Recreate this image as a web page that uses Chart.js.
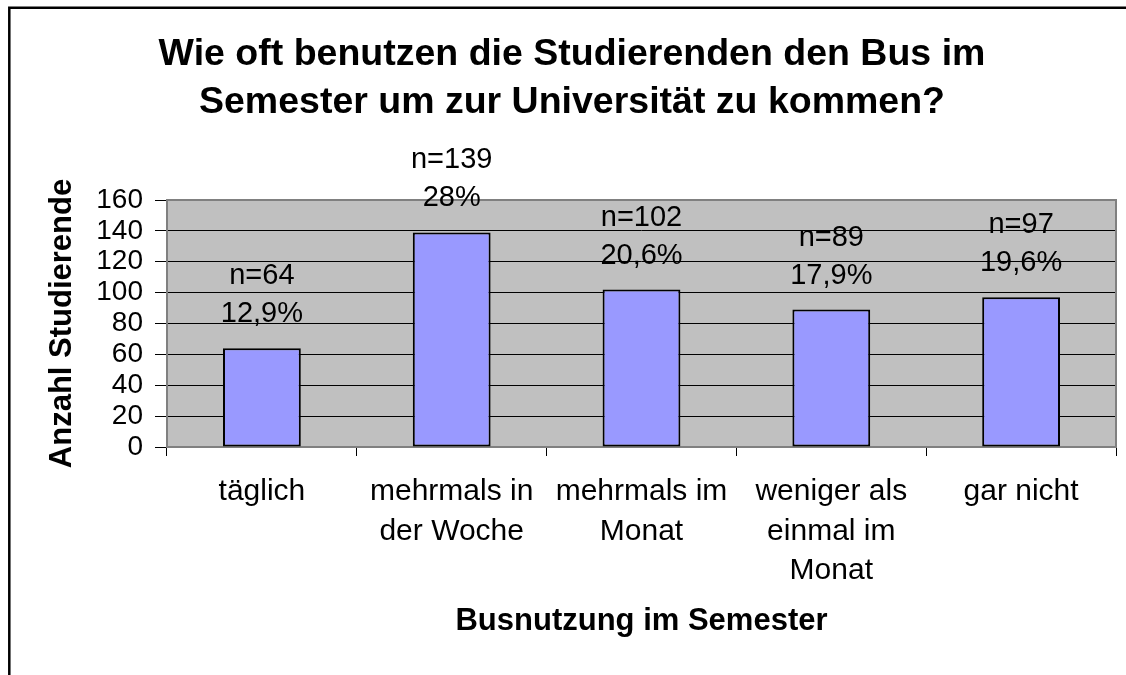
<!DOCTYPE html>
<html>
<head>
<meta charset="utf-8">
<script src="https://cdn.jsdelivr.net/npm/chart.js@4/dist/chart.umd.min.js"></script>
<style>
    body { margin: 0; background: #fff; }
</style>
</head>
<body>
<canvas id="grafico-bus" width="1126" height="675"></canvas>
<script>
let categorias = ["täglich", ["mehrmals in", "der Woche"], ["mehrmals im", "Monat"], ["weniger als", "einmal im", "Monat"], "gar nicht"]
let anzahl = [64, 139, 102, 89, 97]
let prozente = ["12,9%", "28%", "20,6%", "17,9%", "19,6%"]
let yTicks = { min: 0, max: 160, step: 20 }

const fonte = "'Liberation Sans', Arial, sans-serif"
Chart.defaults.color = "#000"
Chart.defaults.font.family = fonte

// fundo, moldura e área cinza do gráfico
const fundoPlugin = {
    id: "fundo",
    beforeDraw(chart) {
        const { ctx, chartArea: a, width, height } = chart
        ctx.save()
        ctx.fillStyle = "#fff"
        ctx.fillRect(0, 0, width, height)
        ctx.strokeStyle = "#000"
        ctx.lineWidth = 2.5
        ctx.beginPath()
        ctx.moveTo(width + 2, 7.8)
        ctx.lineTo(9.3, 7.8)
        ctx.lineTo(9.3, height + 2)
        ctx.stroke()
        ctx.fillStyle = "#c0c0c0"
        ctx.fillRect(a.left, a.top, a.right - a.left, a.bottom - a.top)
        ctx.restore()
    },
    beforeDatasetsDraw(chart) {
        const { ctx, chartArea: a } = chart
        ctx.save()
        ctx.strokeStyle = "#808080"
        ctx.lineWidth = 2
        ctx.strokeRect(a.left, a.top, a.right - a.left, a.bottom - a.top)
        ctx.restore()
    }
}

// rótulos n= / % acima das barras
const rotulosPlugin = {
    id: "rotulos",
    afterDatasetsDraw(chart) {
        const { ctx } = chart
        ctx.save()
        ctx.font = "29px " + fonte
        ctx.fillStyle = "#000"
        ctx.textAlign = "center"
        ctx.textBaseline = "middle"
        chart.getDatasetMeta(0).data.forEach((bar, i) => {
            ctx.fillText("n=" + anzahl[i], bar.x, bar.y - 72)
            ctx.fillText(prozente[i], bar.x, bar.y - 34)
        })
        ctx.restore()
    }
}

let graficoBus = new Chart(
    document.getElementById("grafico-bus"),
    {
        type: "bar",
        data: {
            labels: categorias,
            datasets: [
                {
                    label: "Anzahl Studierende",
                    data: anzahl,
                    backgroundColor: "#9999ff",
                    borderColor: "#000",
                    borderWidth: 2,
                    borderSkipped: false,
                    barPercentage: 0.41,
                    categoryPercentage: 1
                }
            ]
        },
        options: {
            responsive: false,
            animation: false,
            devicePixelRatio: 1,
            layout: {
                padding: { left: 28, right: 10, top: 0, bottom: 0 }
            },
            scales: {
                x: {
                    afterFit: (scale) => { scale.height = 228 },
                    border: { display: false },
                    grid: {
                        offset: true,
                        drawOnChartArea: false,
                        color: "#000",
                        tickColor: "#000",
                        tickLength: 9
                    },
                    ticks: {
                        padding: 16,
                        maxRotation: 0,
                        autoSkip: false,
                        font: { size: 30, lineHeight: 1.32 }
                    },
                    title: {
                        display: true,
                        text: "Busnutzung im Semester",
                        font: { size: 31, weight: "bold", lineHeight: 1.2 },
                        padding: { top: 0, bottom: 35 }
                    }
                },
                y: {
                    min: yTicks.min,
                    max: yTicks.max,
                    afterFit: (scale) => { scale.width = 139 },
                    border: { display: false },
                    grid: {
                        color: (c) => c.tick && c.tick.value === yTicks.max ? "rgba(0,0,0,0)" : "#000",
                        tickColor: "#000",
                        tickLength: 12
                    },
                    ticks: {
                        stepSize: yTicks.step,
                        autoSkip: false,
                        padding: 12,
                        font: { size: 28 }
                    },
                    title: {
                        display: true,
                        text: "Anzahl Studierende",
                        font: { size: 31, weight: "bold", lineHeight: 1.2 },
                        padding: { top: 16, bottom: 0 }
                    }
                }
            },
            plugins: {
                legend: {
                    display: false
                },
                tooltip: {
                    enabled: false
                },
                title: {
                    display: true,
                    text: ["Wie oft benutzen die Studierenden den Bus im", "Semester um zur Universität zu kommen?"],
                    color: "#000",
                    font: { size: 37.5, weight: "bold", lineHeight: 1.28 },
                    padding: { top: 31, bottom: 73 }
                }
            }
        },
        plugins: [fundoPlugin, rotulosPlugin]
    }
)
</script>
</body>
</html>
